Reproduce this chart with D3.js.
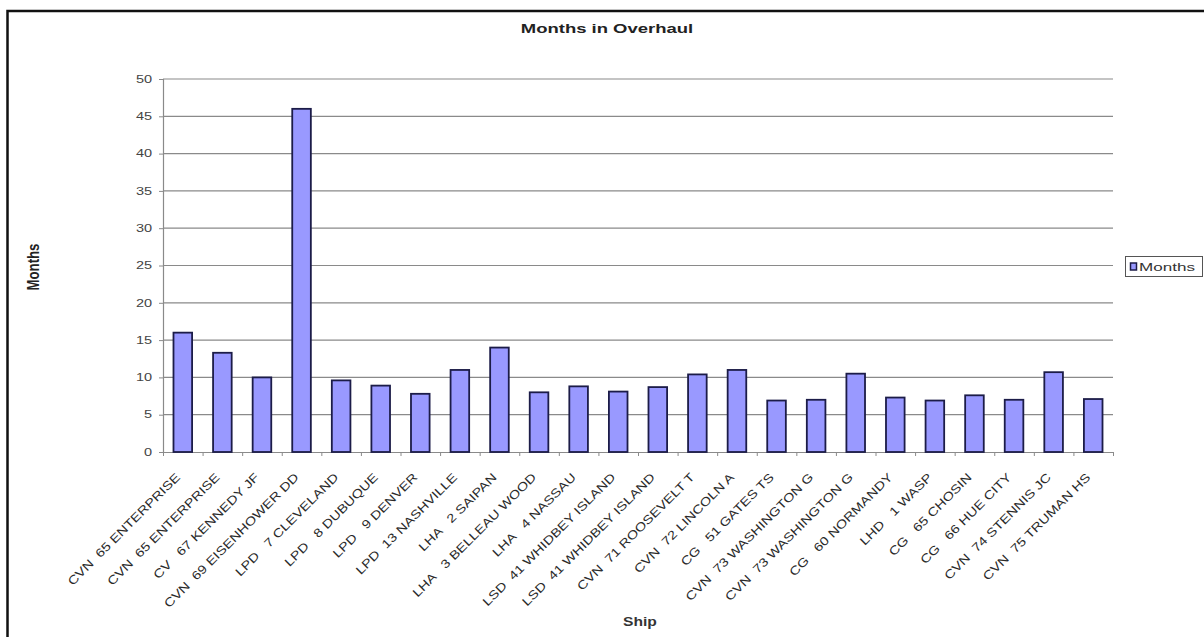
<!DOCTYPE html>
<html>
<head>
<meta charset="utf-8">
<script src="https://cdn.jsdelivr.net/npm/d3@7"></script>
<style>
  html, body { margin: 0; padding: 0; background: #fff; }
  svg { display: block; font-family: "Liberation Sans", Arial, sans-serif; }
</style>
</head>
<body>
<svg id="chart" width="1204" height="637"></svg>
<script>
// ---- data ----
const categories = [
  "CVN  65 ENTERPRISE", "CVN  65 ENTERPRISE", "CV   67 KENNEDY JF", "CVN  69 EISENHOWER DD",
  "LPD   7 CLEVELAND", "LPD   8 DUBUQUE", "LPD   9 DENVER", "LPD  13 NASHVILLE",
  "LHA   2 SAIPAN", "LHA   3 BELLEAU WOOD", "LHA   4 NASSAU", "LSD  41 WHIDBEY ISLAND",
  "LSD  41 WHIDBEY ISLAND", "CVN  71 ROOSEVELT T", "CVN  72 LINCOLN A", "CG   51 GATES TS",
  "CVN  73 WASHINGTON G", "CVN  73 WASHINGTON G", "CG   60 NORMANDY", "LHD   1 WASP",
  "CG   65 CHOSIN", "CG   66 HUE CITY", "CVN  74 STENNIS JC", "CVN  75 TRUMAN HS"
];
const months = [16.0, 13.3, 10.0, 46.0, 9.6, 8.9, 7.8, 11.0, 14.0, 8.0, 8.8, 8.1,
                8.7, 10.4, 11.0, 6.9, 7.0, 10.5, 7.3, 6.9, 7.6, 7.0, 10.7, 7.1];
const yTicks = [0, 5, 10, 15, 20, 25, 30, 35, 40, 45, 50];
const seriesName = "Months";
const chartTitle = "Months in Overhaul";
const xTitle = "Ship";
const yTitle = "Months";

// ---- layout ----
const svg = d3.select("#chart");
const plot = { left: 163, right: 1113, top: 79, bottom: 452 };
const barFill = "#9999ff", barStroke = "#1c1c48";

function stretch(sel, k) {
  sel.each(function () {
    const len = this.getComputedTextLength();
    d3.select(this).attr("textLength", len * k).attr("lengthAdjust", "spacingAndGlyphs");
  });
}

// outer frame (top and left edges visible)
svg.append("path")
  .attr("d", "M7.5,637 V11 H1204")
  .attr("fill", "none").attr("stroke", "#111").attr("stroke-width", 2.5);

const idx = d3.range(categories.length);
const x = d3.scaleBand().domain(idx).range([plot.left, plot.right])
  .paddingInner(0.53).paddingOuter(0.265);
const xEdge = d3.scaleLinear().domain([0, categories.length]).range([plot.left, plot.right]);
const y = d3.scaleLinear().domain([0, 50]).range([plot.bottom, plot.top]);

// gridlines
svg.append("g").selectAll("line").data(yTicks.filter(d => d > 0)).join("line")
  .attr("x1", plot.left).attr("x2", plot.right)
  .attr("y1", d => y(d)).attr("y2", d => y(d))
  .attr("stroke", "#8a8a8a").attr("stroke-width", 1.2);

// y axis
const yAxis = svg.append("g").attr("transform", `translate(${plot.left},0)`)
  .call(d3.axisLeft(y).tickValues(yTicks).tickSize(4).tickPadding(7));
yAxis.select(".domain").attr("stroke", "#8a8a8a").attr("stroke-width", 1.2);
yAxis.selectAll(".tick line").attr("stroke", "#8a8a8a");
yAxis.selectAll("text").attr("font-size", 10).attr("fill", "#444")
  .attr("font-family", "Liberation Sans, Arial, sans-serif").call(stretch, 1.45);

// x axis (ticks between categories)
const xAxis = svg.append("g").attr("transform", `translate(0,${plot.bottom})`)
  .call(d3.axisBottom(xEdge).tickValues(d3.range(categories.length + 1)).tickFormat("").tickSize(4).tickSizeOuter(0));
xAxis.select(".domain").attr("stroke", "#8a8a8a").attr("stroke-width", 1.2);
xAxis.selectAll(".tick line").attr("stroke", "#8a8a8a");

// bars
svg.append("g").selectAll("rect").data(months).join("rect")
  .attr("x", (d, i) => x(i))
  .attr("y", d => y(d))
  .attr("width", x.bandwidth())
  .attr("height", d => y(0) - y(d))
  .attr("fill", barFill).attr("stroke", barStroke).attr("stroke-width", 1.8);

// category labels
svg.append("g").selectAll("text").data(categories).join("text")
  .attr("transform", (d, i) => `translate(${x(i) + x.bandwidth() / 2 - 2},${plot.bottom + 26}) rotate(-45)`)
  .attr("text-anchor", "end")
  .attr("font-size", 12)
  .attr("fill", "#2a2a2a")
  .style("white-space", "pre")
  .text(d => d)
  .call(stretch, 1.22);

// title
svg.append("text").attr("x", 607).attr("y", 33).attr("text-anchor", "middle")
  .attr("font-size", 13).attr("font-weight", "bold").attr("fill", "#222")
  .text(chartTitle).call(stretch, 1.42);

// axis titles
svg.append("text").attr("x", 640).attr("y", 626).attr("text-anchor", "middle")
  .attr("font-size", 12).attr("font-weight", "bold").attr("fill", "#333")
  .text(xTitle).call(stretch, 1.3);

svg.append("text")
  .attr("transform", "translate(39,267) scale(1.35,1) rotate(-90)")
  .attr("text-anchor", "middle")
  .attr("font-size", 12).attr("font-weight", "bold").attr("fill", "#222")
  .text(yTitle).call(stretch, 1.1);

// legend
const lg = svg.append("g");
lg.append("rect").attr("x", 1125.5).attr("y", 256.5).attr("width", 77).attr("height", 20)
  .attr("fill", "#fff").attr("stroke", "#555").attr("stroke-width", 1);
lg.append("rect").attr("x", 1130.5).attr("y", 263).attr("width", 6).attr("height", 7)
  .attr("fill", barFill).attr("stroke", barStroke).attr("stroke-width", 1.5);
lg.append("text").attr("x", 1139).attr("y", 271)
  .attr("font-size", 11).attr("fill", "#333")
  .text(seriesName).call(stretch, 1.55);
</script>
</body>
</html>
